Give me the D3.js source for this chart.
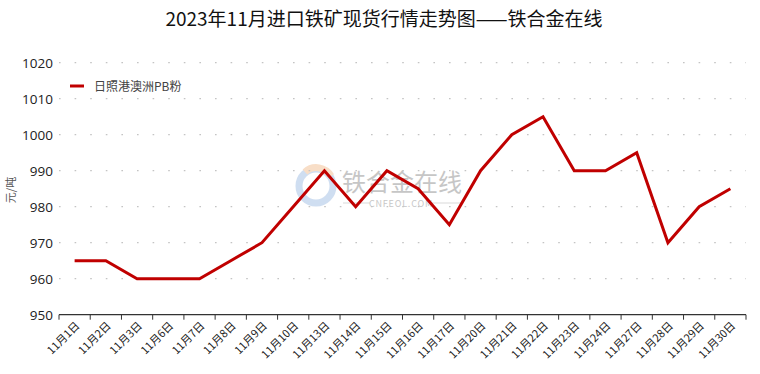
<!DOCTYPE html>
<html>
<head>
<meta charset="utf-8">
<script src="https://cdn.jsdelivr.net/npm/d3@7"></script>
<style>
  body { margin: 0; background: #fff; }
  svg { display: block; font-family: "Noto Sans CJK SC", "Noto Sans", sans-serif; }
</style>
</head>
<body>
<svg id="chart" width="760" height="374"></svg>
<script>
// data
var dates = ["11月1日", "11月2日", "11月3日", "11月6日", "11月7日", "11月8日", "11月9日",
    "11月10日", "11月13日", "11月14日", "11月15日", "11月16日", "11月17日", "11月20日",
    "11月21日", "11月22日", "11月23日", "11月24日", "11月27日", "11月28日", "11月29日", "11月30日"];
var prices = [965, 965, 960, 960, 960, 965, 970, 980, 990, 980, 990, 985, 975, 990,
    1000, 1005, 990, 990, 995, 970, 980, 985];
var yTicks = [950, 960, 970, 980, 990, 1000, 1010, 1020];
var seriesName = "日照港澳洲PB粉";
var titleText = "2023年11月进口铁矿现货行情走势图——铁合金在线";
var unitText = "元/吨";

var lineColor = "#c00000";
var plotLeft = 59, plotRight = 746, plotTop = 62.7, plotBottom = 314.7;

var svg = d3.select("#chart");

var xScale = d3.scaleBand()
    .domain(dates)
    .range([plotLeft, plotRight]);

var yScale = d3.scaleLinear()
    .domain([950, 1020])
    .range([plotBottom, plotTop]);

// title
svg.append("text")
    .attr("x", 384)
    .attr("y", 26)
    .attr("text-anchor", "middle")
    .attr("font-size", 19)
    .attr("fill", "#111")
    .text(titleText);

// watermark
var wm = svg.append("g").attr("opacity", 0.55);
wm.append("circle")
    .attr("cx", 316).attr("cy", 186).attr("r", 17)
    .attr("fill", "none").attr("stroke", "#a9c4e6").attr("stroke-width", 7);
wm.append("path")
    .attr("d", "M305,172 A17,17 0 0 1 331,176")
    .attr("fill", "none").attr("stroke", "#f3c49a").attr("stroke-width", 7);
wm.append("text")
    .attr("x", 342).attr("y", 191)
    .attr("font-size", 24).attr("fill", "#999")
    .text("铁合金在线");
wm.append("line")
    .attr("x1", 343).attr("x2", 370).attr("y1", 203).attr("y2", 203)
    .attr("stroke", "#bbb");
wm.append("line")
    .attr("x1", 432).attr("x2", 462).attr("y1", 203).attr("y2", 203)
    .attr("stroke", "#bbb");
wm.append("text")
    .attr("x", 401).attr("y", 207)
    .attr("text-anchor", "middle")
    .attr("font-size", 9).attr("fill", "#999")
    .attr("letter-spacing", 0.8)
    .text("CNFEOL.COM");

// dotted gridlines
svg.append("g")
    .selectAll("line")
    .data(yTicks.slice(1))
    .enter()
    .append("line")
    .attr("x1", plotLeft)
    .attr("x2", plotRight)
    .attr("y1", function (d) { return yScale(d); })
    .attr("y2", function (d) { return yScale(d); })
    .attr("stroke", "#c4c4c4")
    .attr("stroke-width", 1.2)
    .attr("stroke-dasharray", "1.6,14");

// Y axis (labels only)
var yAxis = svg.append("g")
    .attr("transform", "translate(" + plotLeft + ",0)")
    .call(d3.axisLeft(yScale).tickValues(yTicks).tickFormat(d3.format("d")).tickSize(0).tickPadding(6));
yAxis.select(".domain").remove();
yAxis.selectAll("text")
    .attr("font-size", 13.5)
    .attr("fill", "#222")
    .style("font-family", "'Open Sans', 'Noto Sans', sans-serif");

// unit label
svg.append("text")
    .attr("transform", "translate(15,190) rotate(-90)")
    .attr("text-anchor", "middle")
    .attr("font-size", 11)
    .attr("fill", "#555")
    .text(unitText);

// X axis with ticks at band edges
var xAxis = svg.append("g")
    .attr("transform", "translate(0," + plotBottom + ")");
xAxis.append("line")
    .attr("x1", plotLeft).attr("x2", plotRight)
    .attr("stroke", "#333").attr("stroke-width", 1.2);
xAxis.selectAll(".edge")
    .data(dates.concat(["end"]))
    .enter()
    .append("line")
    .attr("class", "edge")
    .attr("x1", function (d, i) { return i < dates.length ? xScale(d) : plotRight; })
    .attr("x2", function (d, i) { return i < dates.length ? xScale(d) : plotRight; })
    .attr("y1", 0).attr("y2", 5)
    .attr("stroke", "#333");
xAxis.selectAll(".lab")
    .data(dates)
    .enter()
    .append("text")
    .attr("class", "lab")
    .attr("transform", function (d) {
        return "translate(" + (xScale(d) + xScale.bandwidth() / 2 + 3) + ",9) rotate(-45)";
    })
    .attr("text-anchor", "end")
    .attr("dy", "0.35em")
    .attr("font-size", 11)
    .attr("fill", "#222")
    .text(function (d) { return d; });

// price line
var line = d3.line()
    .x(function (d, i) { return xScale(dates[i]) + xScale.bandwidth() / 2; })
    .y(function (d) { return yScale(d); });

svg.append("path")
    .datum(prices)
    .attr("d", line)
    .attr("fill", "none")
    .attr("stroke", lineColor)
    .attr("stroke-width", 3)
    .attr("stroke-linejoin", "miter");

// legend
svg.append("line")
    .attr("x1", 70).attr("x2", 84)
    .attr("y1", 86).attr("y2", 86)
    .attr("stroke", lineColor)
    .attr("stroke-width", 3);
svg.append("text")
    .attr("x", 94)
    .attr("y", 90.5)
    .attr("font-size", 12)
    .attr("fill", "#444")
    .text(seriesName);
</script>
</body>
</html>
